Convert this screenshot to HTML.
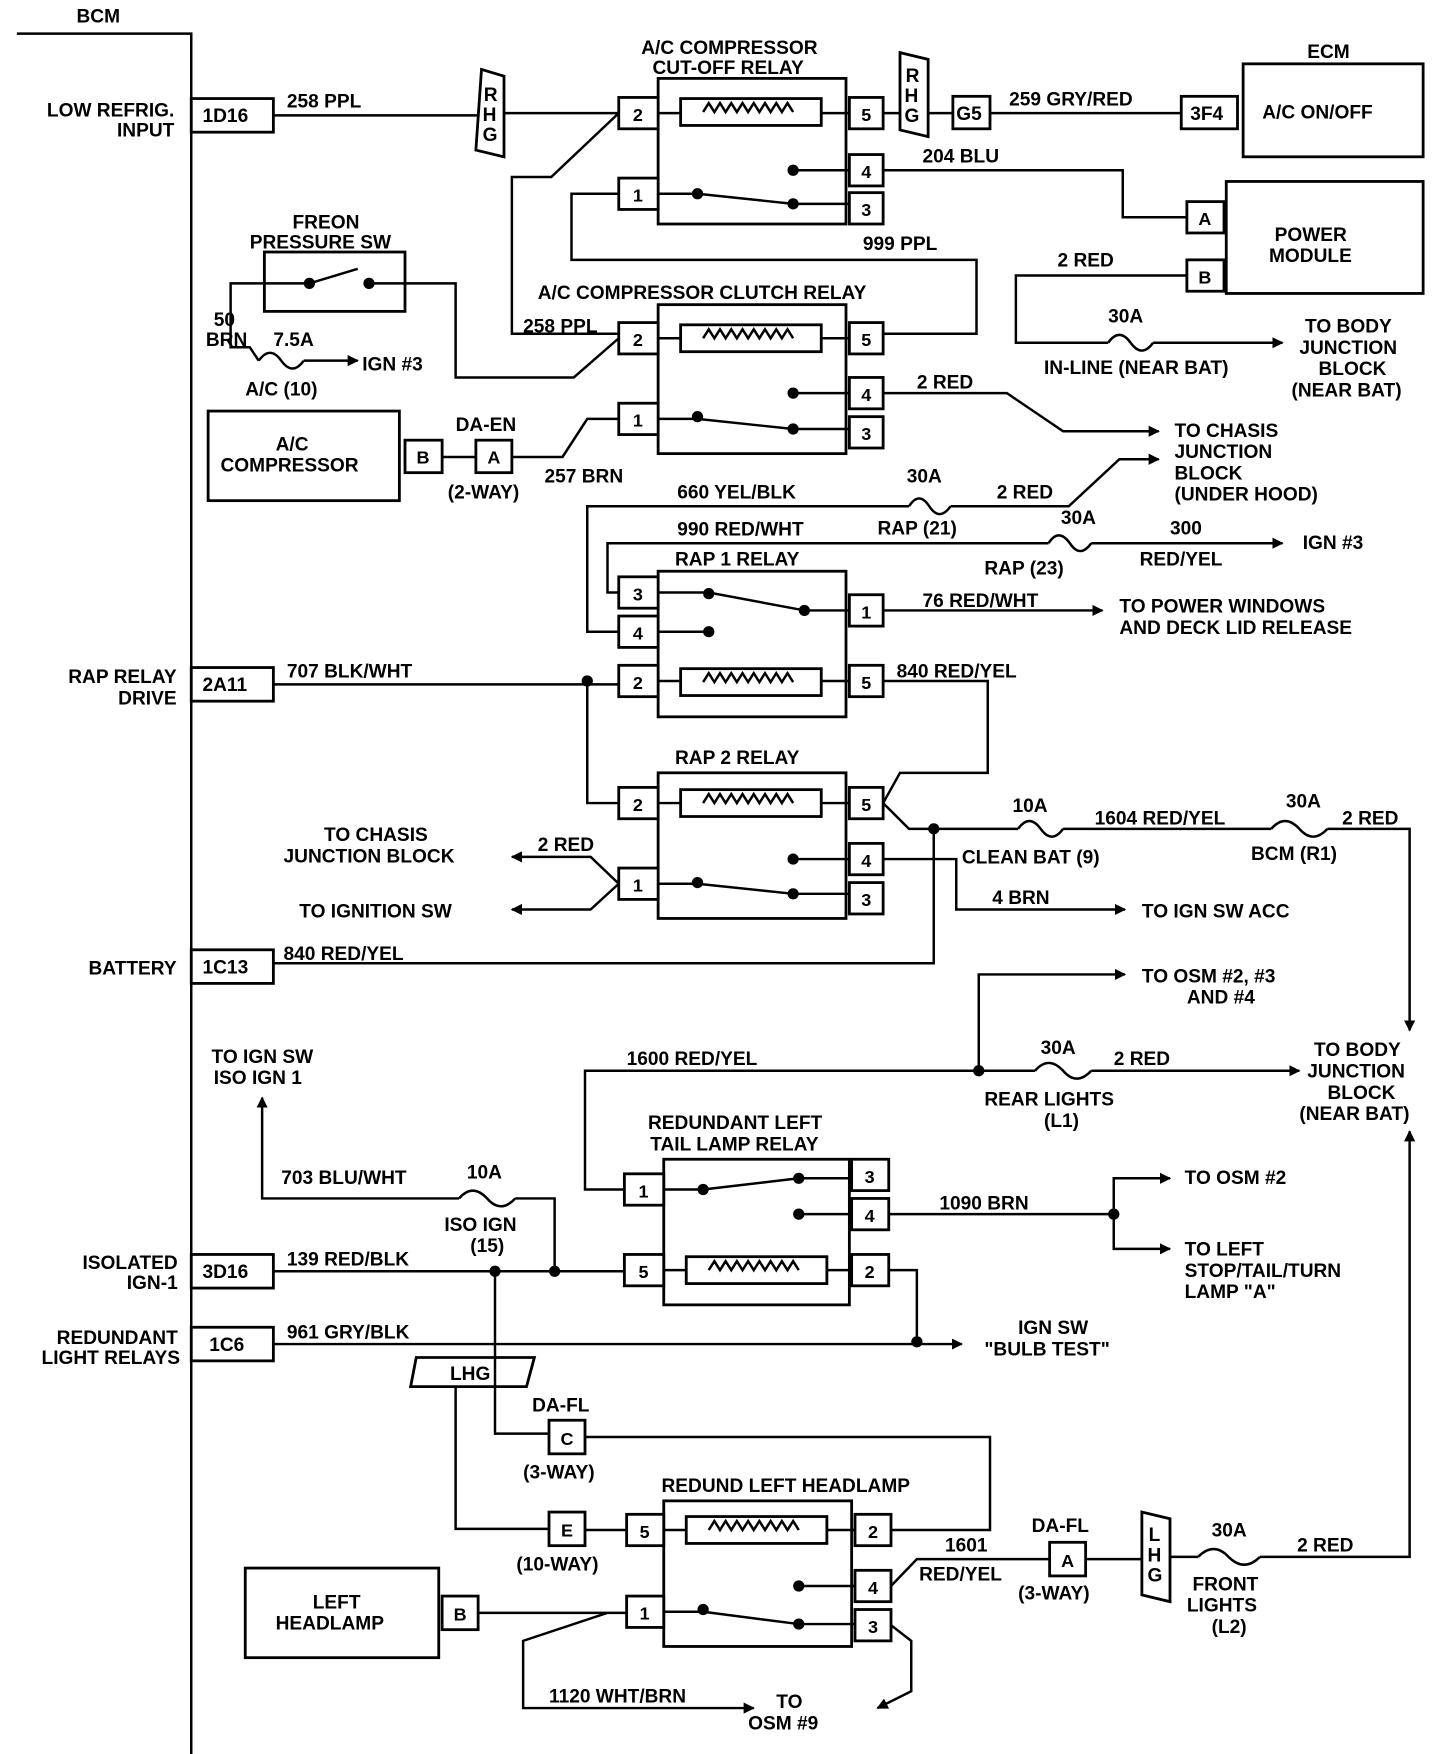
<!DOCTYPE html>
<html><head><meta charset="utf-8"><style>
html,body{margin:0;padding:0;background:#fff;}
svg{display:block;}
text{font-family:"Liberation Sans",sans-serif;font-weight:bold;font-size:17px;fill:#000;}
.w{fill:none;stroke:#000;stroke-width:2.2;}
.b{fill:#fff;stroke:#000;stroke-width:2.5;}
.pt{font-size:16px;text-anchor:middle;}
</style></head><body>
<svg width="1440" height="1754" viewBox="0 0 1280 1566" preserveAspectRatio="none" xmlns="http://www.w3.org/2000/svg">
<defs>
<marker id="ar" markerWidth="10" markerHeight="10" refX="9" refY="5" orient="auto" markerUnits="userSpaceOnUse"><path d="M0,0 L10,5 L0,10 Z" fill="#000"/></marker>
<g id="coil"><rect x="0" y="0" width="125" height="24" class="b"/><path class="w" d="M20,12 l5,-8 l5,8 l5,-8 l5,8 l5,-8 l5,8 l5,-8 l5,8 l5,-8 l5,8 l5,-8 l5,8 l5,-8 l5,8 l5,-8 l5,8"/></g>
</defs>
<path class="w" d="M15,30 H170 V1566" stroke-width="3"/>
<text x="68" y="20">BCM</text>
<g>
<rect class="b" x="170" y="88" width="73" height="30"/><text x="180" y="109">1D16</text>
<rect class="b" x="170" y="596" width="73" height="30"/><text x="180" y="617">2A11</text>
<rect class="b" x="170" y="848" width="73" height="30"/><text x="180" y="869">1C13</text>
<rect class="b" x="170" y="1120" width="73" height="30"/><text x="180" y="1141">3D16</text>
<rect class="b" x="170" y="1185" width="73" height="30"/><text x="186" y="1206">1C6</text>
</g>
<g>
<text x="155" y="104" text-anchor="end">LOW REFRIG.</text><text x="155" y="122" text-anchor="end">INPUT</text>
<text x="157" y="610" text-anchor="end">RAP RELAY</text><text x="157" y="629" text-anchor="end">DRIVE</text>
<text x="157" y="870" text-anchor="end">BATTERY</text>
<text x="158" y="1133" text-anchor="end">ISOLATED</text><text x="158" y="1151" text-anchor="end">IGN-1</text>
<text x="158" y="1200" text-anchor="end">REDUNDANT</text><text x="160" y="1218" text-anchor="end">LIGHT RELAYS</text>
</g>

<g>
<rect class="b" x="585" y="70" width="167" height="130"/>
<use href="#coil" x="605" y="88"/>
<rect class="b" x="550" y="87" width="35" height="28"/><text class="pt" x="567" y="108">2</text>
<rect class="b" x="550" y="159" width="35" height="28"/><text class="pt" x="567" y="180">1</text>
<rect class="b" x="755" y="87" width="30" height="28"/><text class="pt" x="770" y="108">5</text>
<rect class="b" x="755" y="138" width="30" height="28"/><text class="pt" x="770" y="159">4</text>
<rect class="b" x="755" y="172" width="30" height="28"/><text class="pt" x="770" y="193">3</text>
<path class="w" d="M585,101 H605 M730,101 H755 M585,173 H620 L705,182 H755 M705,152 H755"/>
<circle cx="620" cy="173" r="5"/><circle cx="705" cy="152" r="5"/><circle cx="705" cy="182" r="5"/>
<text x="570" y="48">A/C COMPRESSOR</text><text x="580" y="66">CUT-OFF RELAY</text>

<rect class="b" x="585" y="272" width="167" height="133"/>
<use href="#coil" x="605" y="290"/>
<rect class="b" x="550" y="288" width="35" height="28"/><text class="pt" x="567" y="309">2</text>
<rect class="b" x="550" y="360" width="35" height="28"/><text class="pt" x="567" y="381">1</text>
<rect class="b" x="755" y="288" width="30" height="28"/><text class="pt" x="770" y="309">5</text>
<rect class="b" x="755" y="337" width="30" height="28"/><text class="pt" x="770" y="358">4</text>
<rect class="b" x="755" y="372" width="30" height="28"/><text class="pt" x="770" y="393">3</text>
<path class="w" d="M585,302 H605 M730,302 H755 M585,374 H620 L705,383 H755 M705,351 H755"/>
<circle cx="620" cy="372" r="5"/><circle cx="705" cy="351" r="5"/><circle cx="705" cy="383" r="5"/>
<text x="478" y="267">A/C COMPRESSOR CLUTCH RELAY</text>

<rect class="b" x="585" y="510" width="167" height="130"/>
<use href="#coil" x="605" y="597"/>
<rect class="b" x="550" y="515" width="35" height="28"/><text class="pt" x="567" y="536">3</text>
<rect class="b" x="550" y="550" width="35" height="28"/><text class="pt" x="567" y="571">4</text>
<rect class="b" x="550" y="594" width="35" height="28"/><text class="pt" x="567" y="615">2</text>
<rect class="b" x="755" y="531" width="30" height="28"/><text class="pt" x="770" y="552">1</text>
<rect class="b" x="755" y="594" width="30" height="28"/><text class="pt" x="770" y="615">5</text>
<path class="w" d="M585,529 H630 L715,545 H755 M585,564 H630 M585,608 H605 M730,608 H755"/>
<circle cx="630" cy="530" r="5"/><circle cx="630" cy="564" r="5"/><circle cx="715" cy="545" r="5"/>
<text x="600" y="505">RAP 1 RELAY</text>

<rect class="b" x="585" y="690" width="167" height="130"/>
<use href="#coil" x="605" y="705"/>
<rect class="b" x="550" y="703" width="35" height="28"/><text class="pt" x="567" y="724">2</text>
<rect class="b" x="550" y="775" width="35" height="28"/><text class="pt" x="567" y="796">1</text>
<rect class="b" x="755" y="703" width="30" height="28"/><text class="pt" x="770" y="724">5</text>
<rect class="b" x="755" y="753" width="30" height="28"/><text class="pt" x="770" y="774">4</text>
<rect class="b" x="755" y="788" width="30" height="28"/><text class="pt" x="770" y="809">3</text>
<path class="w" d="M585,717 H605 M730,717 H755 M585,789 H620 L705,798 H755 M705,767 H755"/>
<circle cx="620" cy="788" r="5"/><circle cx="705" cy="767" r="5"/><circle cx="705" cy="798" r="5"/>
<text x="600" y="682">RAP 2 RELAY</text>

<rect class="b" x="590" y="1035" width="165" height="130"/>
<use href="#coil" x="610" y="1122"/>
<rect class="b" x="555" y="1048" width="35" height="28"/><text class="pt" x="572" y="1069">1</text>
<rect class="b" x="555" y="1120" width="35" height="28"/><text class="pt" x="572" y="1141">5</text>
<rect class="b" x="757" y="1035" width="33" height="28"/><text class="pt" x="773" y="1056">3</text>
<rect class="b" x="757" y="1070" width="33" height="28"/><text class="pt" x="773" y="1091">4</text>
<rect class="b" x="757" y="1120" width="33" height="28"/><text class="pt" x="773" y="1141">2</text>
<path class="w" d="M590,1062 H625 L710,1052 H757 M710,1084 H757 M590,1134 H610 M735,1134 H757"/>
<circle cx="625" cy="1062" r="5"/><circle cx="710" cy="1052" r="5"/><circle cx="710" cy="1084" r="5"/>
<text x="576" y="1008">REDUNDANT LEFT</text><text x="578" y="1027">TAIL LAMP RELAY</text>

<rect class="b" x="590" y="1340" width="167" height="130"/>
<use href="#coil" x="610" y="1354"/>
<rect class="b" x="557" y="1352" width="33" height="28"/><text class="pt" x="573" y="1373">5</text>
<rect class="b" x="557" y="1425" width="33" height="28"/><text class="pt" x="573" y="1446">1</text>
<rect class="b" x="760" y="1352" width="32" height="28"/><text class="pt" x="776" y="1373">2</text>
<rect class="b" x="760" y="1402" width="32" height="28"/><text class="pt" x="776" y="1423">4</text>
<rect class="b" x="760" y="1437" width="32" height="28"/><text class="pt" x="776" y="1458">3</text>
<path class="w" d="M590,1366 H610 M735,1366 H760 M590,1439 H625 L710,1450 H760 M710,1416 H760"/>
<circle cx="625" cy="1437" r="5"/><circle cx="710" cy="1416" r="5"/><circle cx="710" cy="1450" r="5"/>
<text x="588" y="1332">REDUND LEFT HEADLAMP</text>
</g>

<g>
<path class="b" d="M428,62 L448,68 L448,140 L423,134 Z"/><text x="430" y="90" font-size="15">R</text><text x="429" y="108" font-size="15">H</text><text x="429" y="126" font-size="15">G</text>
<path class="b" d="M800,47 L825,53 L825,122 L800,116 Z"/><text x="805" y="73" font-size="15">R</text><text x="804" y="91" font-size="15">H</text><text x="804" y="109" font-size="15">G</text>
<rect class="b" x="847" y="86" width="33" height="29"/><text x="850" y="107">G5</text>
<rect class="b" x="1050" y="86" width="50" height="29"/><text x="1058" y="107">3F4</text>
<rect class="b" x="1105" y="57" width="160" height="83"/><text x="1122" y="106">A/C ON/OFF</text><text x="1162" y="52">ECM</text>
<rect class="b" x="1090" y="162" width="175" height="100"/><text x="1133" y="215">POWER</text><text x="1128" y="234">MODULE</text>
<rect class="b" x="1055" y="180" width="33" height="28"/><text class="pt" x="1071" y="201">A</text>
<rect class="b" x="1055" y="232" width="33" height="28"/><text class="pt" x="1071" y="253">B</text>
<rect class="b" x="235" y="225" width="125" height="53"/>
<path class="w" d="M235,253 H275 L318,240 M328,253 H360"/><circle cx="275" cy="253" r="5"/><circle cx="328" cy="253" r="5"/>
<text x="260" y="204">FREON</text><text x="222" y="222">PRESSURE SW</text>
<rect class="b" x="185" y="367" width="170" height="80"/><text x="245" y="402">A/C</text><text x="196" y="421">COMPRESSOR</text>
<rect class="b" x="360" y="393" width="33" height="29"/><text class="pt" x="376" y="414">B</text>
<rect class="b" x="423" y="393" width="32" height="29"/><text class="pt" x="439" y="414">A</text>
<text x="405" y="385">DA-EN</text><text x="398" y="445">(2-WAY)</text>
<rect class="b" x="218" y="1400" width="172" height="80"/><text x="278" y="1436">LEFT</text><text x="245" y="1455">HEADLAMP</text>
<rect class="b" x="393" y="1425" width="32" height="30"/><text class="pt" x="409" y="1447">B</text>
<path class="b" d="M370,1212 H475 L468,1238 H365 Z"/><text x="400" y="1232">LHG</text>
<rect class="b" x="488" y="1268" width="32" height="30"/><text class="pt" x="504" y="1290">C</text>
<text x="473" y="1260">DA-FL</text><text x="465" y="1320">(3-WAY)</text>
<rect class="b" x="488" y="1350" width="32" height="30"/><text class="pt" x="504" y="1372">E</text>
<text x="459" y="1402">(10-WAY)</text>
<rect class="b" x="933" y="1377" width="32" height="30"/><text class="pt" x="949" y="1399">A</text>
<text x="917" y="1368">DA-FL</text><text x="905" y="1428">(3-WAY)</text>
<path class="b" d="M1015,1350 L1040,1356 L1040,1430 L1015,1424 Z"/><text x="1021" y="1376" font-size="15">L</text><text x="1020" y="1394" font-size="15">H</text><text x="1020" y="1412" font-size="15">G</text>
</g>

<g class="w">
<path d="M243,103 H425 M448,101 H550"/>
<path d="M550,101 L490,158 H455 V298 H550"/>
<path d="M550,173 H508 V232 H868 V298 H785"/>
<path d="M785,101 H800 M825,101 H847 M880,101 H1050"/>
<path d="M785,152 H998 V194 H1055"/>
<path d="M1055,246 H903 V306 H985 M1025,306 H1140" marker-end="url(#ar)"/>
<path d="M985,306 q10,-14 20,0 q10,14 20,0"/>
<path d="M360,253 H405 V337 H510 L550,302"/>
<path d="M235,253 H205 V310 H222 L230,322"/>
<path d="M230,322 q10,-14 20,0 q10,14 20,0"/>
<path d="M270,322 H318" marker-end="url(#ar)"/>
<path d="M550,374 H522 L500,408 H455 M423,408 H393"/>
<path d="M785,351 H895 L945,385 H1030" marker-end="url(#ar)"/>
<path d="M550,564 H522 V452 H808 M845,452 H950 L995,410 H1030" marker-end="url(#ar)"/>
<path d="M808,452 q9,-14 18,0 q9,14 19,0"/>
<path d="M550,529 H540 V485 H932 M970,485 H1140" marker-end="url(#ar)"/>
<path d="M932,485 q9,-14 19,0 q9,14 19,0"/>
<path d="M785,545 H980" marker-end="url(#ar)"/>
<path d="M243,611 H550 M522,608 V717 H550"/>
<path d="M785,608 H878 V690 H800 L785,717"/>
<path d="M785,717 L808,740 H905 M945,740 H1130 M1180,740 H1253 V920" marker-end="url(#ar)"/>
<path d="M905,740 q10,-14 20,0 q10,14 20,0 M1130,740 q12,-14 25,0 q12,14 25,0"/>
<path d="M830,740 V860 H243"/>
<path d="M785,767 H850 V812 H1000" marker-end="url(#ar)"/>
<path d="M550,789 L525,765 H455" marker-end="url(#ar)"/>
<path d="M550,789 L525,812 H455" marker-end="url(#ar)"/>
<path d="M555,1062 H520 V956 H920 M970,956 H1155" marker-end="url(#ar)"/>
<path d="M920,956 q12,-14 25,0 q12,14 25,0"/>
<path d="M870,956 V870 H1000" marker-end="url(#ar)"/>
<path d="M790,1084 H990 V1052 H1040" marker-end="url(#ar)"/>
<path d="M990,1084 V1115 H1040" marker-end="url(#ar)"/>
<path d="M243,1135 H555"/>
<path d="M493,1135 V1070 H458 M408,1070 H233 V980" marker-end="url(#ar)"/>
<path d="M408,1070 q12,-14 25,0 q12,14 25,0"/>
<path d="M243,1200 H855" marker-end="url(#ar)"/>
<path d="M790,1134 H815 V1198"/>
<path d="M440,1135 V1280 H488 M520,1283 H880 V1366 H792"/>
<path d="M405,1238 V1365 H488 M520,1366 H557"/>
<path d="M792,1416 L815,1392 H933 M965,1392 H1015 M1040,1390 H1065 M1120,1390 H1253 V1010" marker-end="url(#ar)"/>
<path d="M1065,1390 q14,-14 27,0 q14,14 28,0"/>
<path d="M425,1440 H557 M557,1440 L540,1440 L465,1465 V1525 H670" marker-end="url(#ar)"/>
<path d="M792,1451 L810,1465 V1510 L780,1525" marker-end="url(#ar)"/>
</g>
<g>
<circle cx="522" cy="608" r="5"/><circle cx="830" cy="740" r="5"/><circle cx="870" cy="956" r="5"/><circle cx="990" cy="1084" r="5"/>
<circle cx="440" cy="1135" r="5"/><circle cx="493" cy="1135" r="5"/><circle cx="815" cy="1198" r="5"/>
</g>

<g>
<text x="255" y="96">258 PPL</text>
<text x="897" y="94">259 GRY/RED</text>
<text x="820" y="145">204 BLU</text>
<text x="767" y="223">999 PPL</text>
<text x="940" y="238">2 RED</text>
<text x="985" y="288">30A</text>
<text x="928" y="334">IN-LINE (NEAR BAT)</text>
<text x="1160" y="297">TO BODY</text><text x="1155" y="316">JUNCTION</text><text x="1172" y="335">BLOCK</text><text x="1148" y="354">(NEAR BAT)</text>
<text x="190" y="291">50</text><text x="183" y="309">BRN</text>
<text x="243" y="309">7.5A</text><text x="322" y="331">IGN #3</text><text x="218" y="353">A/C (10)</text>
<text x="465" y="297">258 PPL</text>
<text x="815" y="347">2 RED</text>
<text x="1044" y="390">TO CHASIS</text><text x="1044" y="409">JUNCTION</text><text x="1044" y="428">BLOCK</text><text x="1044" y="447">(UNDER HOOD)</text>
<text x="484" y="431">257 BRN</text>
<text x="602" y="445">660 YEL/BLK</text><text x="806" y="431">30A</text><text x="886" y="445">2 RED</text>
<text x="602" y="478">990 RED/WHT</text><text x="780" y="477">RAP (21)</text><text x="943" y="468">30A</text><text x="1040" y="477">300</text>
<text x="875" y="513">RAP (23)</text><text x="1013" y="505">RED/YEL</text><text x="1158" y="490">IGN #3</text>
<text x="820" y="542">76 RED/WHT</text>
<text x="995" y="547">TO POWER WINDOWS</text><text x="995" y="566">AND DECK LID RELEASE</text>
<text x="255" y="605">707 BLK/WHT</text>
<text x="797" y="605">840 RED/YEL</text>
<text x="900" y="725">10A</text><text x="973" y="736">1604 RED/YEL</text><text x="1143" y="721">30A</text><text x="1193" y="736">2 RED</text>
<text x="855" y="771">CLEAN BAT (9)</text><text x="1112" y="768">BCM (R1)</text>
<text x="478" y="760">2 RED</text>
<text x="288" y="751">TO CHASIS</text><text x="252" y="770">JUNCTION BLOCK</text>
<text x="266" y="819">TO IGNITION SW</text>
<text x="882" y="807">4  BRN</text><text x="1015" y="819">TO IGN SW ACC</text>
<text x="252" y="857">840 RED/YEL</text>
<text x="1015" y="877">TO OSM #2, #3</text><text x="1055" y="896">AND #4</text>
<text x="557" y="951">1600 RED/YEL</text><text x="925" y="941">30A</text><text x="990" y="951">2 RED</text>
<text x="875" y="987">REAR LIGHTS</text><text x="928" y="1006">(L1)</text>
<text x="1168" y="943">TO BODY</text><text x="1162" y="962">JUNCTION</text><text x="1180" y="981">BLOCK</text><text x="1155" y="1000">(NEAR BAT)</text>
<text x="188" y="949">TO IGN SW</text><text x="190" y="968">ISO IGN 1</text>
<text x="835" y="1080">1090 BRN</text>
<text x="1053" y="1057">TO OSM #2</text>
<text x="1053" y="1121">TO LEFT</text><text x="1053" y="1140">STOP/TAIL/TURN</text><text x="1053" y="1159">LAMP "A"</text>
<text x="250" y="1057">703 BLU/WHT</text><text x="415" y="1052">10A</text>
<text x="395" y="1099">ISO IGN</text><text x="418" y="1118">(15)</text>
<text x="255" y="1130">139 RED/BLK</text>
<text x="255" y="1195">961 GRY/BLK</text>
<text x="905" y="1191">IGN SW</text><text x="875" y="1210">"BULB TEST"</text>
<text x="840" y="1385">1601</text><text x="817" y="1411">RED/YEL</text>
<text x="1077" y="1372">30A</text><text x="1153" y="1385">2 RED</text>
<text x="1060" y="1420">FRONT</text><text x="1055" y="1439">LIGHTS</text><text x="1077" y="1458">(L2)</text>
<text x="488" y="1520">1120 WHT/BRN</text>
<text x="690" y="1525">TO</text><text x="665" y="1544">OSM #9</text>
</g>
</svg>
</body></html>
